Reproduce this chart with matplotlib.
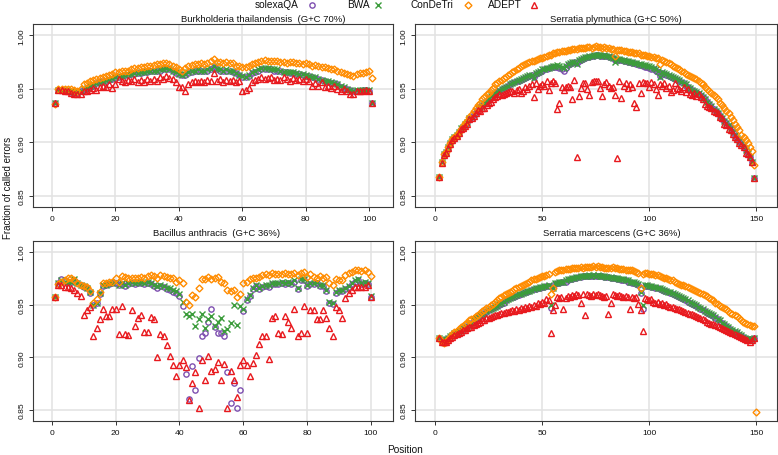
import numpy as np
import matplotlib
matplotlib.use("Agg")
import matplotlib.pyplot as plt
from matplotlib.lines import Line2D

plt.rcParams['font.family'] = ['Liberation Sans', 'DejaVu Sans']

# fraction of called errors, stored x1000
methods = ["solexaQA", "BWA", "ConDeTri", "ADEPT"]

# Burkholderia thailandensis (G+C 70%), positions 1..101
burk_pos = list(range(1, 102))
burk_solexa = [937, 949, 949, 948, 948, 947, 947, 946, 948, 949,
               951, 952, 953, 955, 956, 957, 957, 958, 959, 960,
               961, 962, 963, 963, 964, 964, 965, 965, 966, 966,
               967, 967, 967, 967, 968, 968, 968, 967, 965, 964,
               963, 963, 965, 966, 967, 967, 967, 967, 967, 968,
               970, 968, 967, 967, 967, 967, 966, 965, 963, 961,
               961, 962, 965, 966, 967, 968, 968, 968, 968, 967,
               967, 967, 966, 966, 965, 965, 964, 964, 963, 962,
               962, 961, 960, 959, 958, 957, 956, 955, 955, 954,
               952, 951, 950, 949, 948, 948, 948, 949, 949, 948,
               937]
burk_bwa = [937, 949, 949, 949, 948, 948, 947, 947, 948, 950,
            951, 953, 954, 955, 956, 957, 958, 959, 960, 961,
            962, 962, 963, 964, 964, 965, 965, 966, 966, 967,
            967, 967, 967, 968, 968, 969, 968, 967, 966, 964,
            963, 964, 966, 967, 967, 968, 967, 967, 968, 968,
            971, 968, 968, 967, 968, 967, 967, 965, 963, 962,
            961, 963, 966, 967, 968, 969, 969, 969, 968, 968,
            968, 967, 966, 966, 966, 966, 965, 964, 964, 963,
            962, 961, 961, 959, 958, 957, 957, 956, 955, 954,
            953, 952, 950, 949, 948, 949, 949, 949, 949, 949,
            937]
burk_condetri = [936, 950, 950, 950, 950, 950, 949, 948, 950, 954,
                 955, 957, 958, 959, 960, 961, 962, 963, 964, 966,
                 966, 967, 967, 967, 968, 969, 969, 970, 970, 971,
                 971, 972, 973, 973, 974, 974, 973, 971, 970, 968,
                 967, 969, 971, 972, 973, 973, 974, 973, 974, 976,
                 978, 975, 975, 974, 975, 974, 974, 971, 971, 970,
                 970, 971, 973, 974, 975, 976, 977, 976, 976, 976,
                 976, 975, 975, 974, 975, 975, 974, 974, 973, 974,
                 973, 971, 972, 971, 970, 970, 969, 968, 968, 967,
                 966, 965, 964, 963, 962, 964, 965, 965, 966, 967,
                 960]
burk_adept = [937, 949, 949, 948, 948, 946, 945, 945, 945, 948,
              948, 949, 951, 949, 952, 953, 952, 954, 951, 954,
              959, 957, 956, 958, 957, 959, 956, 958, 956, 959,
              957, 959, 957, 961, 959, 962, 960, 959, 956, 952,
              952, 948, 954, 956, 957, 956, 957, 956, 958, 957,
              965, 957, 959, 956, 958, 957, 958, 956, 957, 948,
              949, 951, 956, 958, 959, 961, 959, 960, 961, 958,
              959, 958, 961, 959, 957, 960, 958, 959, 957, 959,
              957, 953, 955, 953, 956, 952, 953, 951, 953, 950,
              948, 950, 948, 945, 945, 948, 948, 948, 949, 948,
              937]

# Serratia plymuthica (G+C 50%), positions 2..149
plym_pos = list(range(2, 150))
plym_solexa = [868, 882, 889, 891, 896, 899, 902, 905, 907, 910,
               912, 914, 916, 919, 922, 924, 926, 928, 931, 933,
               935, 937, 939, 941, 942, 944, 945, 947, 948, 950,
               951, 952, 953, 954, 955, 956, 957, 957, 958, 959,
               960, 961, 962, 963, 961, 964, 965, 966, 967, 968,
               968, 969, 970, 970, 970, 970, 969, 968, 967, 969,
               972, 973, 974, 975, 974, 976, 977, 978, 979, 980,
               980, 981, 981, 982, 982, 981, 981, 981, 981, 980,
               980, 979, 977, 977, 977, 977, 976, 976, 975, 975,
               974, 974, 973, 972, 972, 971, 970, 970, 969, 968,
               968, 967, 966, 962, 965, 964, 963, 962, 961, 960,
               959, 958, 957, 956, 955, 953, 952, 950, 949, 948,
               946, 945, 943, 942, 940, 938, 936, 933, 931, 929,
               927, 925, 922, 920, 918, 915, 913, 910, 906, 904,
               901, 898, 896, 893, 889, 886, 882, 867]
plym_bwa = [868, 882, 889, 891, 896, 899, 903, 905, 907, 910,
            913, 914, 917, 919, 923, 924, 926, 929, 932, 933,
            935, 937, 939, 941, 943, 944, 946, 947, 949, 950,
            951, 952, 953, 954, 955, 956, 957, 958, 959, 960,
            961, 962, 963, 963, 960, 965, 966, 967, 968, 968,
            969, 969, 970, 971, 971, 972, 971, 970, 969, 971,
            973, 974, 975, 975, 973, 977, 978, 979, 980, 980,
            981, 981, 982, 982, 982, 982, 981, 982, 981, 981,
            980, 979, 975, 978, 978, 977, 977, 976, 976, 975,
            975, 974, 974, 973, 973, 972, 972, 971, 971, 970,
            969, 968, 967, 961, 966, 965, 964, 963, 962, 961,
            960, 959, 958, 956, 955, 954, 952, 951, 949, 948,
            947, 946, 944, 942, 940, 938, 936, 934, 931, 929,
            927, 925, 923, 920, 918, 916, 913, 910, 907, 904,
            901, 899, 897, 893, 890, 886, 882, 867]
plym_condetri = [868, 882, 889, 891, 896, 899, 903, 905, 907, 910,
                 912, 915, 918, 920, 924, 926, 929, 932, 935, 937,
                 940, 942, 945, 946, 949, 951, 954, 955, 957, 958,
                 960, 961, 963, 964, 966, 967, 968, 969, 971, 972,
                 973, 974, 975, 976, 976, 977, 978, 979, 979, 980,
                 981, 982, 982, 983, 983, 984, 984, 985, 985, 985,
                 986, 986, 987, 987, 987, 988, 988, 988, 988, 989,
                 989, 988, 989, 990, 989, 989, 988, 989, 988, 988,
                 987, 987, 981, 986, 986, 986, 985, 985, 984, 984,
                 984, 983, 983, 983, 982, 982, 982, 981, 981, 980,
                 980, 979, 979, 973, 977, 976, 975, 974, 973, 971,
                 970, 969, 968, 967, 966, 964, 963, 962, 961, 960,
                 959, 957, 955, 954, 952, 950, 948, 946, 944, 942,
                 940, 937, 935, 932, 929, 927, 924, 921, 917, 914,
                 911, 907, 905, 902, 899, 896, 892, 879]
plym_adept = [868, 881, 888, 890, 895, 898, 902, 904, 906, 909,
              912, 913, 915, 917, 922, 923, 925, 927, 930, 929,
              932, 932, 935, 937, 938, 940, 942, 943, 945, 944,
              945, 946, 947, 948, 948, 946, 949, 950, 946, 948,
              952, 950, 953, 954, 942, 955, 950, 953, 954, 953,
              957, 949, 955, 957, 955, 931, 937, 952, 949, 952,
              953, 952, 940, 958, 886, 943, 951, 955, 955, 950,
              944, 956, 957, 957, 957, 951, 943, 954, 956, 953,
              951, 952, 944, 885, 957, 941, 953, 955, 951, 954,
              952, 937, 933, 955, 946, 956, 955, 955, 952, 956,
              954, 950, 944, 954, 953, 955, 951, 953, 947, 949,
              955, 951, 950, 948, 952, 947, 950, 945, 944, 946,
              943, 945, 942, 940, 936, 934, 933, 932, 929, 928,
              927, 924, 923, 917, 916, 912, 911, 908, 905, 903,
              899, 897, 896, 890, 889, 886, 882, 867]

# Bacillus anthracis (G+C 36%), positions 1..100
bac_pos = list(range(1, 101))
bac_solexa = [957, 971, 974, 973, 972, 972, 973, 971, 969, 967,
              966, 961, 950, 952, 960, 968, 969, 970, 971, 971,
              969, 970, 968, 970, 971, 970, 971, 971, 970, 971,
              970, 968, 966, 968, 967, 965, 964, 962, 961, 958,
              949, 884, 860, 892, 869, 899, 920, 923, 934, 946,
              929, 923, 923, 920, 886, 857, 876, 852, 869, 944,
              954, 958, 965, 968, 965, 967, 968, 967, 970, 970,
              970, 971, 970, 971, 970, 972, 965, 973, 973, 968,
              970, 970, 971, 968, 968, 963, 952, 951, 961, 963,
              963, 965, 967, 970, 972, 973, 970, 971, 970, 957]
bac_bwa = [957, 971, 973, 972, 972, 972, 974, 971, 969, 968,
           966, 962, 950, 952, 961, 969, 969, 971, 971, 972,
           969, 971, 969, 971, 972, 971, 972, 972, 971, 972,
           971, 969, 968, 969, 968, 966, 966, 964, 963, 960,
           953, 941, 939, 941, 930, 936, 941, 928, 936, 939,
           930, 934, 937, 925, 927, 933, 950, 931, 949, 946,
           955, 959, 966, 969, 966, 968, 969, 969, 971, 971,
           971, 972, 971, 972, 971, 973, 966, 974, 974, 969,
           971, 971, 972, 969, 969, 964, 953, 952, 962, 964,
           964, 966, 968, 971, 973, 974, 971, 972, 971, 958]
bac_condetri = [957, 970, 972, 973, 975, 975, 973, 971, 969, 968,
                967, 963, 952, 955, 962, 971, 971, 972, 972, 975,
                972, 977, 976, 975, 975, 975, 975, 976, 975, 977,
                978, 977, 975, 978, 977, 976, 975, 975, 972, 973,
                971, 953, 950, 959, 957, 966, 974, 974, 976, 974,
                975, 976, 972, 971, 964, 963, 964, 957, 960, 971,
                972, 974, 975, 975, 976, 978, 979, 978, 980, 979,
                979, 979, 980, 979, 979, 980, 978, 980, 981, 976,
                979, 976, 975, 977, 975, 976, 971, 969, 974, 973,
                973, 978, 980, 981, 983, 983, 982, 983, 981, 977]
bac_adept = [957, 969, 969, 967, 967, 966, 964, 961, 958, 940,
             945, 948, 920, 928, 936, 946, 939, 939, 946, 946,
             922, 949, 922, 921, 945, 930, 937, 940, 924, 924,
             938, 936, 900, 922, 920, 912, 901, 893, 882, 893,
             897, 891, 859, 876, 886, 852, 897, 878, 901, 887,
             889, 896, 878, 894, 852, 887, 878, 862, 893, 897,
             893, 882, 895, 902, 913, 920, 920, 898, 937, 939,
             923, 922, 939, 934, 928, 946, 920, 923, 949, 923,
             945, 945, 936, 936, 945, 937, 928, 920, 948, 945,
             937, 956, 961, 964, 967, 967, 967, 967, 969, 957]

# Serratia marcescens (G+C 36%), positions 2..149 (ConDeTri 2..150)
marc_pos = list(range(2, 150))
marc_pos_condetri = list(range(2, 151))
marc_solexa = [918, 916, 916, 917, 918, 919, 921, 922, 924, 925,
               926, 927, 929, 930, 931, 933, 934, 936, 938, 939,
               941, 942, 943, 945, 946, 947, 948, 949, 950, 951,
               952, 954, 955, 956, 957, 957, 958, 959, 960, 961,
               962, 962, 963, 964, 965, 965, 966, 966, 967, 967,
               968, 968, 947, 966, 970, 971, 971, 972, 972, 972,
               973, 974, 974, 975, 975, 976, 976, 977, 977, 977,
               977, 977, 977, 977, 977, 977, 977, 976, 976, 976,
               975, 975, 975, 974, 974, 973, 973, 973, 972, 972,
               971, 971, 970, 969, 961, 946, 968, 968, 968, 967,
               967, 966, 966, 965, 964, 963, 963, 962, 961, 960,
               959, 958, 957, 956, 955, 954, 953, 952, 951, 950,
               949, 948, 946, 945, 944, 942, 941, 940, 939, 937,
               936, 934, 933, 931, 930, 928, 927, 925, 924, 923,
               921, 920, 919, 918, 917, 917, 917, 918]
marc_bwa = [918, 916, 916, 917, 918, 920, 921, 923, 924, 925,
            926, 928, 929, 930, 932, 933, 935, 937, 938, 940,
            941, 942, 944, 945, 946, 947, 948, 949, 951, 952,
            953, 954, 955, 956, 957, 958, 959, 960, 960, 961,
            962, 963, 963, 964, 965, 966, 966, 967, 967, 968,
            968, 969, 950, 966, 971, 971, 972, 972, 972, 973,
            974, 974, 975, 975, 976, 976, 977, 977, 977, 977,
            978, 977, 978, 977, 978, 977, 977, 977, 976, 976,
            976, 975, 975, 975, 974, 974, 974, 973, 973, 972,
            972, 972, 971, 970, 962, 950, 969, 969, 968, 968,
            967, 967, 966, 966, 965, 964, 963, 962, 962, 961,
            960, 959, 958, 957, 956, 955, 954, 953, 952, 951,
            950, 948, 947, 946, 944, 943, 942, 941, 940, 938,
            936, 935, 933, 932, 930, 929, 927, 926, 925, 924,
            922, 921, 919, 918, 917, 917, 917, 918]
marc_condetri = [918, 915, 914, 915, 917, 919, 922, 924, 925, 927,
                 929, 930, 932, 933, 935, 936, 937, 939, 940, 942,
                 944, 945, 947, 948, 950, 951, 953, 954, 956, 957,
                 959, 960, 961, 962, 963, 965, 966, 967, 968, 969,
                 970, 971, 972, 973, 974, 974, 975, 976, 977, 977,
                 978, 979, 960, 966, 981, 982, 983, 983, 983, 984,
                 984, 984, 985, 985, 985, 985, 986, 985, 986, 986,
                 986, 986, 987, 986, 987, 986, 986, 985, 985, 985,
                 985, 986, 985, 985, 984, 984, 984, 983, 983, 983,
                 983, 982, 981, 980, 966, 979, 980, 980, 979, 979,
                 979, 978, 978, 977, 976, 975, 975, 974, 973, 973,
                 972, 971, 970, 969, 969, 968, 967, 966, 965, 964,
                 963, 962, 961, 960, 959, 958, 956, 955, 954, 952,
                 951, 949, 948, 947, 946, 944, 942, 941, 940, 939,
                 937, 935, 934, 933, 932, 931, 930, 930, 848]
marc_adept = [918, 915, 915, 915, 916, 918, 919, 921, 922, 923,
              924, 926, 926, 928, 929, 929, 931, 932, 933, 934,
              935, 935, 937, 937, 938, 939, 940, 940, 941, 942,
              942, 943, 943, 944, 945, 944, 946, 945, 947, 946,
              948, 947, 949, 948, 950, 949, 952, 951, 953, 952,
              955, 954, 923, 945, 950, 957, 956, 957, 946, 956,
              958, 957, 959, 958, 960, 959, 952, 960, 940, 960,
              959, 958, 960, 959, 960, 959, 958, 957, 958, 941,
              952, 960, 959, 958, 959, 958, 957, 958, 957, 946,
              957, 956, 957, 951, 945, 925, 956, 955, 954, 955,
              953, 952, 953, 951, 952, 950, 951, 949, 948, 948,
              947, 946, 946, 945, 944, 943, 942, 941, 941, 940,
              939, 938, 937, 936, 935, 934, 933, 932, 932, 931,
              930, 929, 928, 927, 926, 925, 924, 923, 922, 921,
              920, 919, 918, 917, 916, 915, 916, 918]

titles = ["Burkholderia thailandensis  (G+C 70%)", "Serratia plymuthica (G+C 50%)",
          "Bacillus anthracis  (G+C 36%)", "Serratia marcescens (G+C 36%)"]

# styles
colors = {"solexaQA": "#7e4fb0", "BWA": "#3c9c3c", "ConDeTri": "#ff8c00", "ADEPT": "#e8191e"}
markers = {"solexaQA": "o", "BWA": "x", "ConDeTri": "D", "ADEPT": "^"}
msizes = {"solexaQA": 3.8, "BWA": 3.8, "ConDeTri": 3.5, "ADEPT": 4.7}

W, H = 778, 456
fig = plt.figure(figsize=(W / 100, H / 100), dpi=100)


def rect(x0, y0, x1, y1):
    return [x0 / W, 1 - y1 / H, (x1 - x0) / W, (y1 - y0) / H]


panels = [
    (rect(33, 25, 393, 208), burk_pos, [burk_solexa, burk_bwa, burk_condetri, burk_adept],
     None, (-6, 107.5), [0, 20, 40, 60, 80, 100], (263, 19)),
    (rect(415, 25, 777, 208), plym_pos, [plym_solexa, plym_bwa, plym_condetri, plym_adept],
     None, (-9.4, 159.6), [0, 50, 100, 150], (616, 19)),
    (rect(33, 242, 393, 422), bac_pos, [bac_solexa, bac_bwa, bac_condetri, bac_adept],
     None, (-5.9, 106.9), [0, 20, 40, 60, 80, 100], (217, 234)),
    (rect(415, 242, 777, 422), marc_pos, [marc_solexa, marc_bwa, marc_condetri, marc_adept],
     marc_pos_condetri, (-9.4, 159.8), [0, 50, 100, 150], (612, 234)),
]

for (r, pos, series, pos_cd, xlim, xticks, tpos), title in zip(panels, titles):
    ax = fig.add_axes(r)
    for name, vals in zip(methods, series):
        xs = pos_cd if (name == "ConDeTri" and pos_cd is not None) else pos
        ax.plot(xs, np.array(vals) / 1000.0, linestyle="none",
                marker=markers[name], ms=msizes[name], mfc="none",
                mec=colors[name], mew=1.0)
    ax.set_xlim(*xlim)
    ax.set_ylim(0.8395, 1.0105)
    ax.set_xticks(xticks)
    ax.set_yticks([0.85, 0.90, 0.95, 1.00])
    ax.set_yticklabels(["0.85", "0.90", "0.95", "1.00"], rotation=90, va="center")
    ax.grid(True, color="#e2e2e2", lw=1.1)
    ax.set_axisbelow(True)
    ax.tick_params(direction="out", length=3, width=0.7, labelsize=6.1,
                   colors="#333333", labelcolor="#111111", pad=2.5)
    for s in ax.spines.values():
        s.set_color("#3a3a3a")
        s.set_linewidth(0.8)
    fig.text(tpos[0] / W, 1 - tpos[1] / H, title, ha="center", va="center",
             fontsize=6.8, color="#111111")

# key across the top
key_text_x = [255, 347, 411, 488]
key_mark_x = [312, 378, 468, 534]
key_y = 1 - 5.5 / H
for name, tx, mx in zip(methods, key_text_x, key_mark_x):
    fig.text(tx / W, key_y, name, ha="left", va="center", fontsize=7.3, color="#111111")
    fig.add_artist(Line2D([mx / W], [key_y], transform=fig.transFigure,
                          marker=markers[name], ms=msizes[name], mfc="none",
                          mec=colors[name], mew=1.0, linestyle="none"))

fig.text(8 / W, 1 - 188 / H, "Fraction of called errors", rotation=90,
         ha="center", va="center", fontsize=7.0, color="#111111")
fig.text(405 / W, 1 - 450 / H, "Position", ha="center", va="center",
         fontsize=7.2, color="#111111")

fig.savefig("out.png", dpi=100)
